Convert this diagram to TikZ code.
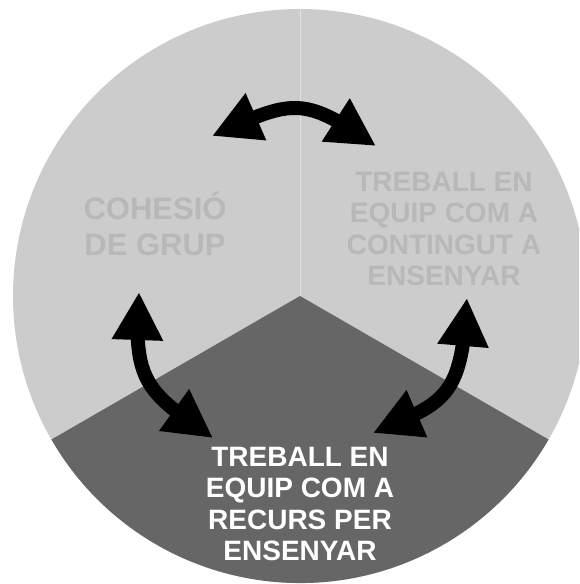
\documentclass[tikz,border=0pt]{standalone}
\usepackage{fontspec}
\setmainfont{Liberation Sans}
\usetikzlibrary{arrows.meta}
\usetikzlibrary{bending}
\definecolor{sector-light}{HTML}{CCCCCC}
\definecolor{sector-dark}{HTML}{666666}
\definecolor{label-gray}{HTML}{B8B8B8}
\definecolor{divider}{HTML}{E2E2E2}
\tikzstyle{cyclearrow}=[line width=14pt, >={Triangle[length=48pt,width=48pt]}, <->]
\tikzstyle{sectorlabel}=[align=center, inner sep=0pt, font=\bfseries\fontsize{28}{31.5}\selectfont]

\begin{document}
\begin{tikzpicture}[x=1pt,y=-1pt]
\useasboundingbox (0,0) rectangle (579,584);
\clip (0,0) rectangle (579,584);
\coordinate (centre) at (300,296);
% whole disc first, then the dark lower sector on top
\fill[sector-light] (centre) circle[radius=287];
\fill[sector-dark] (centre) -- ++(150:287) arc[start angle=150, end angle=30, radius=287] -- cycle;
\draw[divider, line width=1pt] (centre) -- ++(0,-287);
% the three sector labels
\node[sectorlabel, text=label-gray, font=\bfseries\fontsize{31}{36}\selectfont] (cohesio) at (155,224) {COHESIÓ\\DE GRUP};
\node[sectorlabel, text=label-gray] (contingut) at (444,229) {TREBALL EN\\EQUIP COM A\\CONTINGUT A\\ENSENYAR};
\node[sectorlabel, text=white] (recurs) at (300,504) {TREBALL EN\\EQUIP COM A\\RECURS PER\\ENSENYAR};
% tips of the arrows
\coordinate (top-left) at (212,136);
\coordinate (top-right) at (376,146);
\coordinate (left-up) at (139,292);
\coordinate (left-down) at (213,438);
\coordinate (right-up) at (467,298);
\coordinate (right-down) at (373,433);
% arrows between the sectors
\draw[cyclearrow] (top-left) .. controls (294,99) and (302,95) .. (top-right);
\draw[cyclearrow] (left-up) .. controls (132,385) and (148,392) .. (left-down);
\draw[cyclearrow] (right-up) .. controls (462,400) and (445,402) .. (right-down);
\end{tikzpicture}
\end{document}
